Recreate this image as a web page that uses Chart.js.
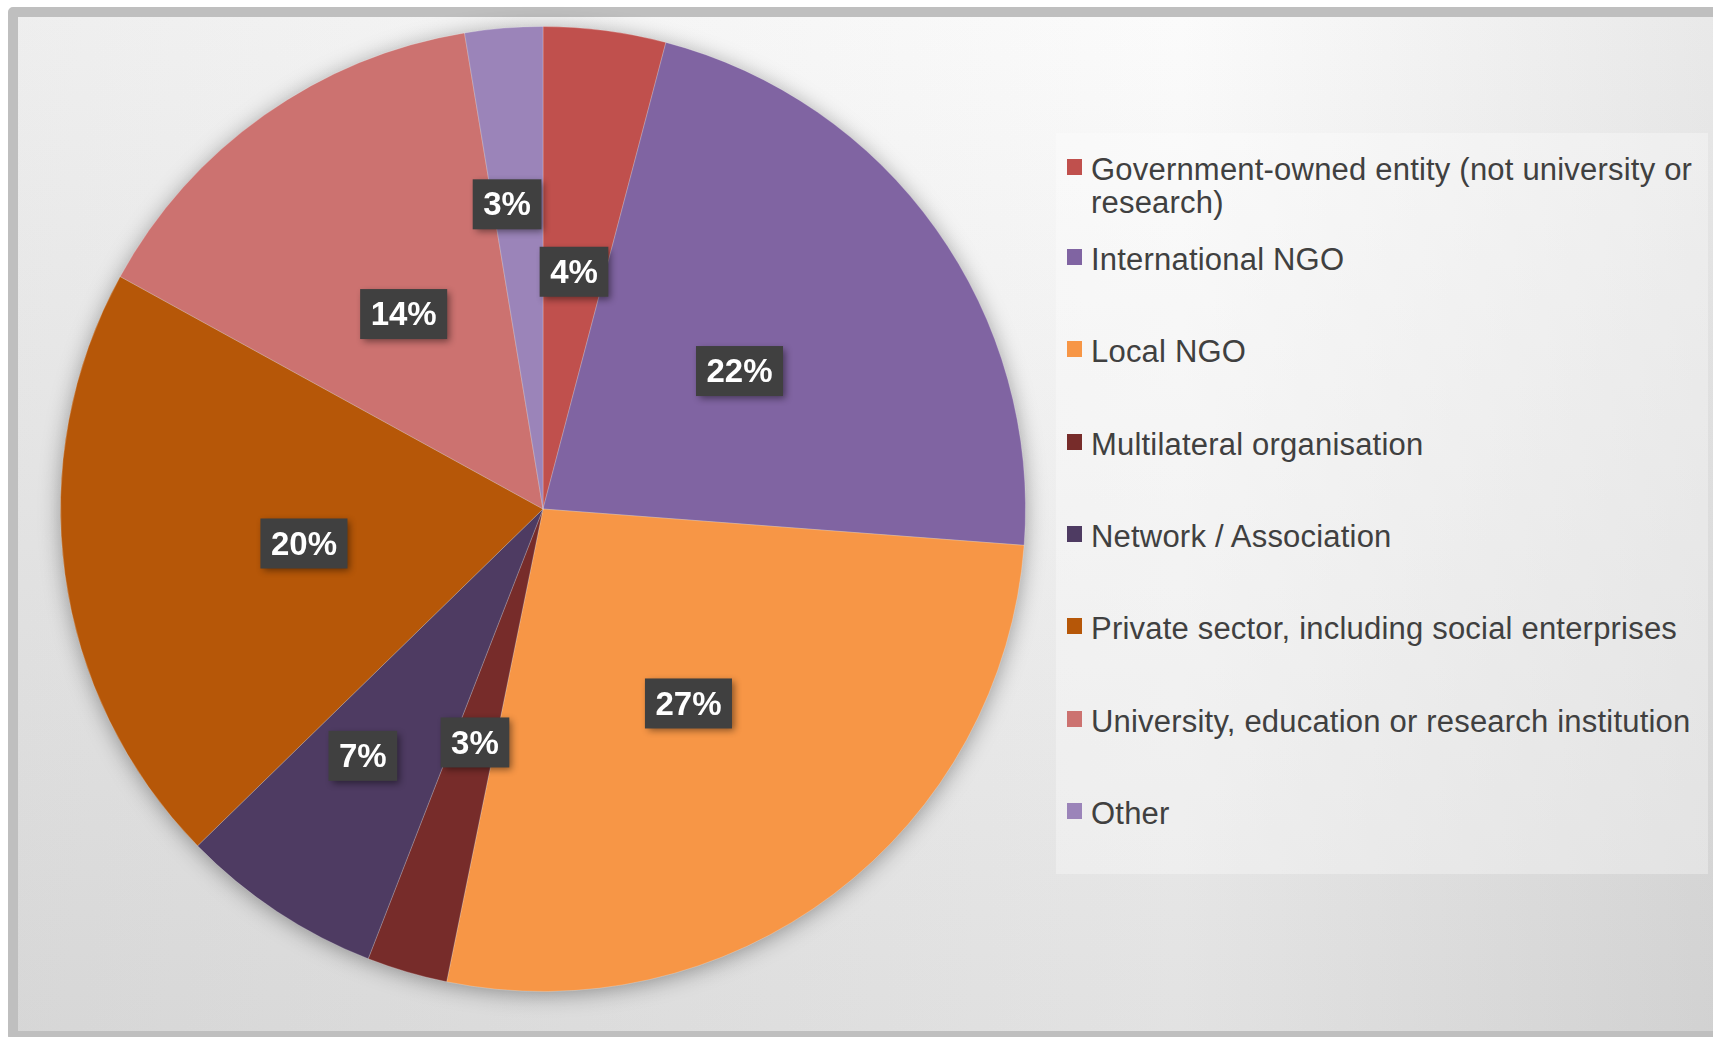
<!DOCTYPE html>
<html>
<head>
<meta charset="utf-8">
<script src="https://cdn.jsdelivr.net/npm/chart.js@4/dist/chart.umd.min.js"></script>
<style>
  html, body { margin: 0; padding: 0; width: 1713px; height: 1037px; overflow: hidden; background: #ffffff; }
  #frame {
    position: absolute; left: 8px; top: 7px; width: 1730px; height: 1034px;
    box-sizing: border-box; border: 10px solid #bfbfbf; border-radius: 5px;
    background:
      linear-gradient(to right, rgb(242,242,242) 0%, rgb(255,255,255) 68%, rgb(236,236,236) 100%),
      linear-gradient(to bottom, rgb(251,251,251) 0%, rgb(226,226,226) 100%);
    background-blend-mode: multiply;
  }
  #legendBox {
    position: absolute; left: 1056px; top: 133px; width: 652px; height: 741px;
    background: rgba(255,255,255,0.32);
  }
  .item { position: absolute; left: 0; }
  .sw { position: absolute; left: 11px; top: 6px; width: 15px; height: 16px; }
  .tx {
    position: absolute; left: 35px; top: 0; white-space: nowrap;
    font-family: "Liberation Sans", Arial, sans-serif;
    font-size: 31px; line-height: 33px; color: #404040; letter-spacing: 0.2px;
  }
  #wrap { position: absolute; left: 0; top: 0; width: 1713px; height: 1037px; }
</style>
</head>
<body>
<div id="frame"></div>
<div id="legendBox"></div>
<div id="wrap"><canvas id="c" width="1713" height="1037"></canvas></div>
<script>
const categories = [
  ["Government-owned entity (not university or", "research)"],
  "International NGO",
  "Local NGO",
  "Multilateral organisation",
  "Network / Association",
  "Private sector, including social enterprises",
  "University, education or research institution",
  "Other"
];
const shares = [4.1, 22.1, 27.0, 2.7, 6.8, 20.3, 14.4, 2.6];
const sliceColors = ["#c0504d", "#8064a2", "#f79646", "#772c2a", "#4e3b62", "#b65708", "#cc7270", "#9b84b9"];

// Soft shadow beneath the whole pie
const pieShadow = {
  id: 'pieShadow',
  beforeDatasetsDraw(chart) {
    const arc = chart.getDatasetMeta(0).data[0];
    if (!arc) return;
    const {x, y, outerRadius} = arc.getProps(['x', 'y', 'outerRadius'], true);
    const ctx = chart.ctx;
    ctx.save();
    ctx.shadowColor = 'rgba(0,0,0,0.38)';
    ctx.shadowBlur = 22;
    ctx.shadowOffsetX = 0;
    ctx.shadowOffsetY = 3;
    ctx.fillStyle = '#888';
    ctx.beginPath();
    ctx.arc(x, y, outerRadius - 1, 0, Math.PI * 2);
    ctx.fill();
    ctx.restore();
  }
};

// Dark boxed percentage labels
const boxLabels = {
  id: 'boxLabels',
  afterDatasetsDraw(chart, args, opts) {
    const ctx = chart.ctx;
    const meta = chart.getDatasetMeta(0);
    const vals = chart.data.datasets[0].data;
    const total = vals.reduce((a, b) => a + b, 0);
    meta.data.forEach((arc, i) => {
      const p = arc.getProps(['x', 'y', 'startAngle', 'endAngle', 'outerRadius'], true);
      const mid = (p.startAngle + p.endAngle) / 2 + (opts.angleShift[i] || 0);
      const f = opts.radiusFactor[i] || 0.5;
      const cx = p.x + Math.cos(mid) * p.outerRadius * f;
      const cy = p.y + Math.sin(mid) * p.outerRadius * f + 2;
      const txt = Math.round(vals[i] / total * 100) + '%';
      ctx.save();
      ctx.font = 'bold 33px "Liberation Sans", Arial, sans-serif';
      const w = ctx.measureText(txt).width + 21;
      const h = 50;
      ctx.shadowColor = 'rgba(0,0,0,0.45)';
      ctx.shadowBlur = 7;
      ctx.shadowOffsetX = 3;
      ctx.shadowOffsetY = 3;
      ctx.fillStyle = '#404040';
      ctx.fillRect(cx - w / 2, cy - h / 2, w, h);
      ctx.shadowColor = 'transparent';
      ctx.fillStyle = '#ffffff';
      ctx.textAlign = 'center';
      ctx.textBaseline = 'middle';
      ctx.fillText(txt, cx, cy + 2);
      ctx.restore();
    });
  }
};

const chart = new Chart(document.getElementById('c'), {
  type: 'pie',
  data: {
    labels: categories,
    datasets: [{
      data: shares,
      backgroundColor: sliceColors,
      borderColor: 'rgba(255,255,255,0.22)',
      borderWidth: 1
    }]
  },
  options: {
    responsive: false,
    animation: false,
    events: [],
    layout: { padding: { left: 60, right: 687, top: 26, bottom: 45 } },
    plugins: {
      legend: { display: false },
      tooltip: { enabled: false },
      boxLabels: {
        radiusFactor: [0.5, 0.5, 0.5, 0.5, 0.63, 0.5, 0.5, 0.64],
        angleShift: [0, 0, 0, 0, 0.05, 0, 0, -0.035]
      }
    }
  },
  plugins: [pieShadow, boxLabels]
});

// HTML legend built from the chart's data
const box = document.getElementById('legendBox');
categories.forEach((lab, i) => {
  const top = i === 0 ? 20 : 110 + (i - 1) * 92.33;
  const item = document.createElement('div');
  item.className = 'item';
  item.style.top = top + 'px';
  const sw = document.createElement('div');
  sw.className = 'sw';
  sw.style.background = sliceColors[i];
  const tx = document.createElement('div');
  tx.className = 'tx';
  tx.innerHTML = (Array.isArray(lab) ? lab : [lab]).map(s => s.replace(/&/g, '&amp;').replace(/</g, '&lt;')).join('<br>');
  item.appendChild(sw);
  item.appendChild(tx);
  box.appendChild(item);
});
</script>
</body>
</html>
